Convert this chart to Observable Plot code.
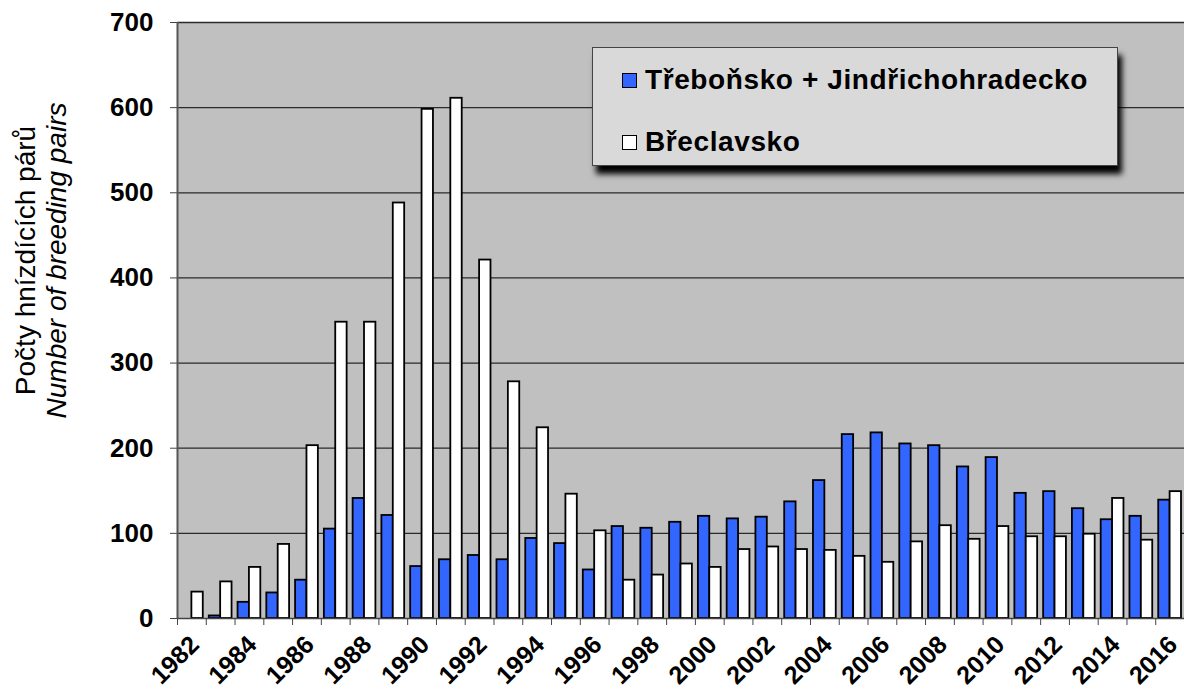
<!DOCTYPE html>
<html><head><meta charset="utf-8">
<script src="https://cdn.jsdelivr.net/npm/d3@7"></script>
<script src="https://cdn.jsdelivr.net/npm/@observablehq/plot@0.6"></script>
<style>
body{margin:0;background:#fff;}
#wrap{position:relative;width:1184px;height:693px;font-family:"Liberation Sans",Arial,sans-serif;}
#legend{position:absolute;left:592px;top:47px;width:524px;height:117px;background:#d9d9d9;border:1px solid #444;box-shadow:4px 8px 6px #000;}
.item{position:absolute;left:29px;height:30px;display:flex;align-items:center;font-weight:bold;font-size:28px;letter-spacing:0.6px;color:#000;white-space:nowrap;}
.sw{width:13px;height:13px;border:1.5px solid #000;margin-right:8px;}
</style></head>
<body><div id="wrap"></div>
<script>
const years = d3.range(1982, 2017);
const trebonsko = [0,3,19,30,45,105,141,121,61,69,74,69,94,88,57,108,106,113,120,117,119,137,162,216,218,205,203,178,189,147,149,129,116,120,139];
const breclavsko = [31,43,60,87,203,348,348,488,598,611,421,278,224,146,103,45,51,64,60,81,84,81,80,73,66,90,109,93,108,96,96,99,141,92,149];
const seriesNames = ["Třeboňsko + Jindřichohradecko", "Břeclavsko"];
const seriesColors = ["#3366ff", "#ffffff"];
const yTicks = [0,100,200,300,400,500,600,700];
const xLabelYears = years.filter(y => y % 2 === 0);
const titleLines = ["Počty hnízdících párů", "Number of breeding pairs"];

const W = 1184, H = 693, mL = 177, mR = 0, mT = 22, mB = 75;
const bw = (W - mL - mR) / years.length;

const rows = [];
years.forEach((y, i) => {
  rows.push({year: y, series: seriesNames[0], value: trebonsko[i]});
  rows.push({year: y, series: seriesNames[1], value: breclavsko[i]});
});
const tRows = rows.filter(d => d.series === seriesNames[0] && d.value > 0);
const bRows = rows.filter(d => d.series === seriesNames[1] && d.value > 0);

const chart = Plot.plot({
  width: W, height: H,
  marginLeft: mL, marginRight: mR, marginTop: mT, marginBottom: mB,
  style: {fontFamily: '"Liberation Sans", Arial, sans-serif', fontSize: "25px", fontWeight: "bold", color: "#000", background: "#fff"},
  x: {type: "band", domain: years, padding: 0, round: false, axis: null},
  y: {domain: [0, 700], axis: null},
  marks: [
    Plot.frame({fill: "#c0c0c0", stroke: "#9a9a9a"}),
    Plot.ruleY(yTicks.slice(1), {stroke: "#2a2a2a", strokeWidth: 1.3}),
    Plot.barY(tRows, {x: "year", y: "value", fill: seriesColors[0], stroke: "#000", strokeWidth: 1.8, insetLeft: 3, insetRight: bw / 2}),
    Plot.barY(bRows, {x: "year", y: "value", fill: seriesColors[1], stroke: "#000", strokeWidth: 1.8, insetLeft: bw / 2, insetRight: 3}),
    Plot.ruleY([0], {stroke: "#444", strokeWidth: 1.5}),
    Plot.ruleX([years[0]], {dx: -bw / 2, stroke: "#555", strokeWidth: 2}),
    Plot.axisY({ticks: yTicks, tickSize: 7, tickPadding: 17, label: null, fontSize: 26, fontWeight: "bold", stroke: "#444"}),
    Plot.axisX({ticks: years, tickSize: 7, tickFormat: () => "", dx: -bw / 2, label: null, stroke: "#444"}),
    Plot.axisX({ticks: xLabelYears, tickSize: 0, tickRotate: -45, tickPadding: 22, dx: 3, tickFormat: d => `${d}`, label: null, fontSize: 25, fontWeight: "bold"}),
    Plot.text([titleLines[0]], {text: d => d, frameAnchor: "left", textAnchor: "middle", dx: -151, dy: -60, rotate: -90, fontSize: 28, fontWeight: "normal", fill: "#000"}),
    Plot.text([titleLines[1]], {text: d => d, frameAnchor: "left", textAnchor: "middle", dx: -120, dy: -60, rotate: -90, fontSize: 28, fontWeight: "normal", fontStyle: "italic", fill: "#000"})
  ]
});
const wrap = document.getElementById("wrap");
wrap.appendChild(chart);

const legend = document.createElement("div");
legend.id = "legend";
seriesNames.forEach((name, i) => {
  const it = document.createElement("div");
  it.className = "item";
  it.style.top = (i === 0 ? 17 : 79) + "px";
  const sw = document.createElement("span");
  sw.className = "sw";
  sw.style.background = seriesColors[i];
  const tx = document.createElement("span");
  tx.textContent = name;
  it.appendChild(sw); it.appendChild(tx);
  legend.appendChild(it);
});
wrap.appendChild(legend);
</script>
</body></html>
